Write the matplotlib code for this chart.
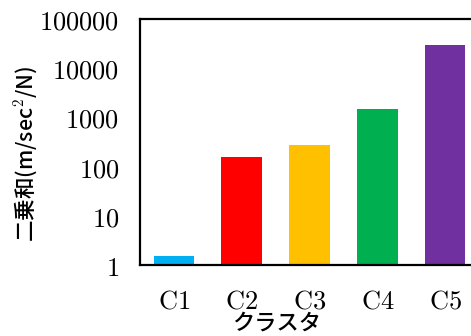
import matplotlib
matplotlib.use("Agg")
import matplotlib.pyplot as plt
from matplotlib.ticker import FixedLocator, FuncFormatter, NullLocator

plt.rcParams['mathtext.fontset'] = 'cm'
plt.rcParams['font.family'] = ['Noto Sans CJK JP', 'DejaVu Sans']

categories = ["C1", "C2", "C3", "C4", "C5"]
values = [1.52, 157, 275, 1480, 29700]
colors = ["#00B0F0", "#FF0000", "#FFC000", "#00B050", "#7030A0"]
yticks = [1, 10, 100, 1000, 10000, 100000]

W, H = 471, 336
fig = plt.figure(figsize=(W/100, H/100), dpi=100)
ax = fig.add_axes([140/W, 1-265/H, 339/W, 246/H])

x = list(range(len(categories)))
ax.bar(x, values, width=0.6, color=colors, zorder=2)
ax.set_yscale('log')
ax.set_ylim(1, 100000)
ax.set_xlim(-0.5, len(categories) - 0.5)

ax.yaxis.set_major_locator(FixedLocator(yticks))
ax.yaxis.set_minor_locator(NullLocator())
ax.yaxis.set_major_formatter(FuncFormatter(lambda v, p: r'$\mathrm{%d}$' % int(round(v))))
ax.set_xticks(x)
ax.set_xticklabels([r'$\mathrm{%s}$' % c for c in categories])
ax.tick_params(axis='both', length=0, labelsize=19)
ax.tick_params(axis='y', pad=15)
ax.tick_params(axis='x', pad=16)

for s in ['left', 'top', 'bottom']:
    ax.spines[s].set_linewidth(1.6)
    ax.spines[s].set_color('black')
ax.spines['right'].set_visible(False)

fig.text(277/W, 1-323/H, 'クラスタ', fontsize=16, fontweight='medium',
         ha='center', va='center')
fig.text(26/W, 1-154/H, '二乗和(m/sec$^2$/N)', fontsize=15.5, fontweight='medium',
         ha='center', va='center', rotation=90)

fig.savefig('out.png', dpi=100)
